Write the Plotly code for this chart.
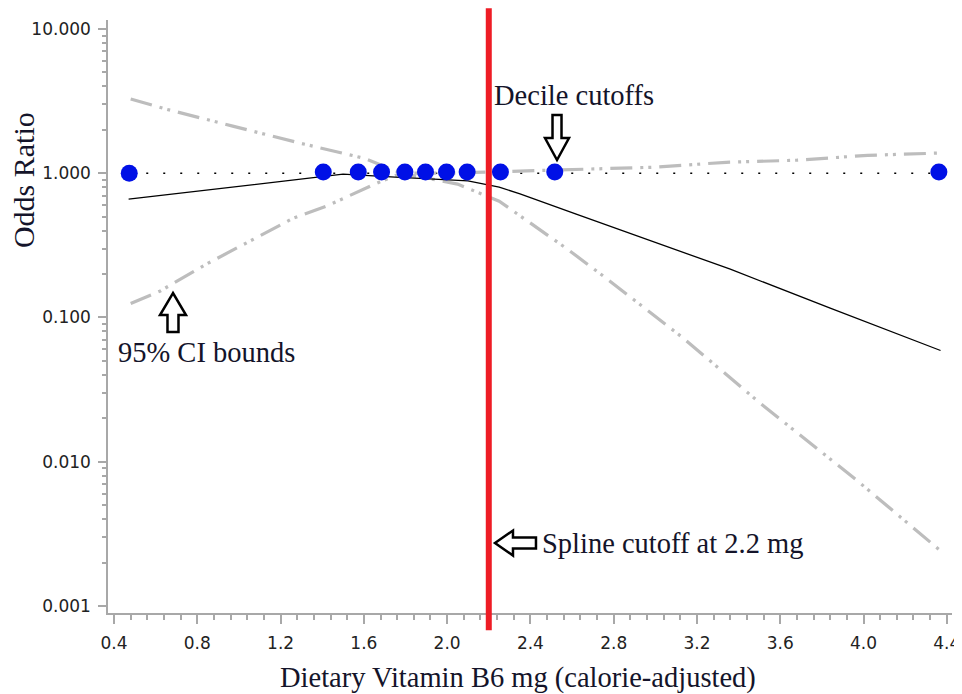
import plotly.graph_objects as go

# ---------------- data ----------------
decile_x = [0.473, 1.405, 1.573, 1.685, 1.797, 1.896, 1.997, 2.096, 2.256, 2.517, 4.362]
decile_or = [1.00, 1.02, 1.02, 1.02, 1.02, 1.02, 1.02, 1.02, 1.02, 1.02, 1.02]

est_x = [0.47, 0.80, 1.20, 1.50, 1.75, 2.10, 2.25, 2.35, 2.62, 2.99, 3.36, 3.84, 4.37]
est_or = [0.66, 0.75, 0.876, 0.985, 0.94, 0.885, 0.80, 0.72, 0.52, 0.337, 0.216, 0.116, 0.059]

upper_x = [0.48, 0.65, 0.97, 1.29, 1.60, 1.78, 2.00, 2.30, 2.69, 2.99, 3.34, 3.68, 4.02, 4.37]
upper_or = [3.27, 2.78, 2.12, 1.62, 1.27, 1.00, 1.00, 1.03, 1.08, 1.10, 1.19, 1.23, 1.33, 1.38]

lower_x = [0.48, 0.62, 0.85, 1.26, 1.42, 1.66, 1.78, 2.05, 2.25, 2.58, 2.77, 2.97, 3.13, 3.50, 3.97, 4.37]
lower_or = [0.125, 0.152, 0.237, 0.487, 0.59, 0.85, 1.00, 0.84, 0.64, 0.296, 0.184, 0.110, 0.0727, 0.0257, 0.00738, 0.00241]

ref_x = [0.473, 4.40]
ref_or = [1.0, 1.0]

spline_cutoff = 2.2

x_ticks = [0.4, 0.8, 1.2, 1.6, 2.0, 2.4, 2.8, 3.2, 3.6, 4.0, 4.4]
y_ticks = [0.001, 0.01, 0.1, 1.0, 10.0]
y_tick_labels = ["0.001", "0.010", "0.100", "1.000", "10.000"]
y_minor = [m * 10.0 ** e for e in range(-3, 1) for m in range(2, 10)]

x_title = "Dietary Vitamin B6 mg (calorie-adjusted)"
y_title = "Odds Ratio"

# ---------------- figure ----------------
GRAY = "#bdbdbd"
AXIS = "#a8a8a8"
SERIF = "Liberation Serif, Times New Roman, serif"
TXT = "#14142a"

fig = go.Figure()

fig.add_trace(go.Scatter(x=ref_x, y=ref_or, mode="lines",
                         line=dict(color="#000000", width=1.6, dash="2px,15px"),
                         hoverinfo="skip", showlegend=False))
fig.add_trace(go.Scatter(x=upper_x, y=upper_or, mode="lines",
                         line=dict(color=GRAY, width=3.2, dash="22px,8px,3px,5px,3px,8px"),
                         showlegend=False))
fig.add_trace(go.Scatter(x=lower_x, y=lower_or, mode="lines",
                         line=dict(color=GRAY, width=3.2, dash="22px,8px,3px,5px,3px,8px"),
                         showlegend=False))
fig.add_trace(go.Scatter(x=est_x, y=est_or, mode="lines",
                         line=dict(color="#000000", width=1.3),
                         showlegend=False))
fig.add_trace(go.Scatter(x=decile_x, y=decile_or, mode="markers",
                         marker=dict(color="#0010e6", size=17, line=dict(width=0)),
                         showlegend=False))

# spline cutoff line
fig.add_shape(type="line", xref="x", yref="paper",
              x0=spline_cutoff, x1=spline_cutoff, y0=-0.029, y1=1.02,
              line=dict(color="#ee1c25", width=6), layer="above")

# hollow block arrows (pixel-sized, anchored in paper coords)
arrow_style = dict(line=dict(color="#000000", width=2.5), fillcolor="#ffffff",
                   xref="paper", yref="paper", xsizemode="pixel", ysizemode="pixel",
                   layer="above")
fig.add_shape(type="path", xanchor=0.532, yanchor=0.7639,
              path="M0,0 L-12,22 L-4.5,22 L-4.5,45 L4.5,45 L4.5,22 L12,22 Z",
              **arrow_style)
fig.add_shape(type="path", xanchor=0.0770, yanchor=0.5396,
              path="M0,0 L-13,-22 L-5.5,-22 L-5.5,-39 L5.5,-39 L5.5,-22 L13,-22 Z",
              **arrow_style)
fig.add_shape(type="path", xanchor=0.4585, yanchor=0.118,
              path="M0,0 L18,12.5 L18,5.5 L41,5.5 L41,-5.5 L18,-5.5 L18,-12.5 Z",
              **arrow_style)

ann_font = dict(family=SERIF, size=28.5, color=TXT)
fig.add_annotation(text="Decile cutoffs", xref="paper", yref="paper",
                   x=0.455, y=0.8735, xanchor="left", yanchor="middle",
                   showarrow=False, font=ann_font)
fig.add_annotation(text="95% CI bounds", xref="paper", yref="paper",
                   x=0.0095, y=0.440, xanchor="left", yanchor="middle",
                   showarrow=False, font=ann_font)
fig.add_annotation(text="Spline cutoff at 2.2 mg", xref="paper", yref="paper",
                   x=0.5118, y=0.118, xanchor="left", yanchor="middle",
                   showarrow=False, font=ann_font)
fig.add_annotation(text=x_title, xref="paper", yref="paper",
                   x=0.4858, y=-0.1096, xanchor="center", yanchor="middle",
                   showarrow=False, font=ann_font)
fig.add_annotation(text=y_title, xref="paper", yref="paper",
                   x=-0.1007, y=0.730, xanchor="center", yanchor="middle",
                   textangle=-90, showarrow=False,
                   font=dict(family=SERIF, size=30, color=TXT))

tick_font = dict(family="DejaVu Sans, Verdana, sans-serif", size=17, color="#222222")

fig.update_xaxes(range=[0.371, 4.425], tickmode="array", tickvals=x_ticks,
                 tickformat=".1f", showline=True, linecolor=AXIS, linewidth=1.5,
                 ticks="outside", ticklen=9, tickwidth=1.5, tickcolor=AXIS,
                 ticklabelstandoff=5, tickfont=tick_font,
                 showgrid=False, zeroline=False,
                 minor=dict(ticks="outside", dtick=0.08, tick0=0.4, ticklen=5,
                            tickwidth=1.5, tickcolor=AXIS, showgrid=False))
fig.update_yaxes(type="log", range=[-3.049, 1.062], tickmode="array",
                 tickvals=y_ticks, ticktext=y_tick_labels,
                 showline=True, linecolor=AXIS, linewidth=1.5,
                 ticks="outside", ticklen=8, tickwidth=1.5, tickcolor=AXIS,
                 ticklabelstandoff=4, tickfont=tick_font,
                 showgrid=False, zeroline=False,
                 minor=dict(ticks="outside", tickmode="array", tickvals=y_minor,
                            ticklen=4, tickwidth=1.5, tickcolor=AXIS, showgrid=False))

# the page body has an 8px margin, so the figure is 8px smaller than the window
fig.update_layout(width=954, height=686,
                  margin=dict(l=100, r=10, t=12, b=81, autoexpand=False),
                  paper_bgcolor="#ffffff", plot_bgcolor="#ffffff",
                  showlegend=False)

fig.write_html("out.html")
